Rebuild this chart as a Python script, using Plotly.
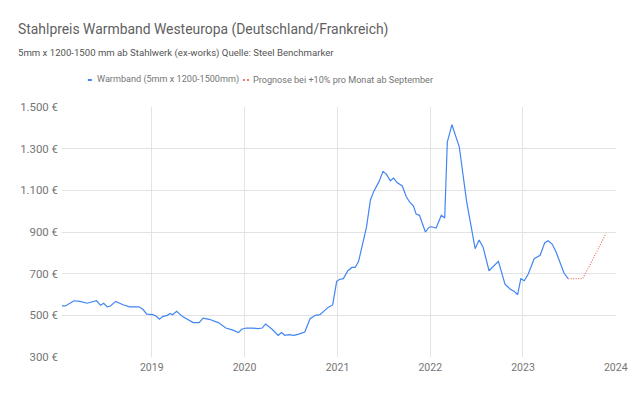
import pandas as pd
import plotly.graph_objects as go

# --- data (dates as decimal years, prices in EUR/t) ---
hist_year = [2018.032, 2018.067, 2018.118, 2018.161, 2018.225, 2018.303, 2018.404, 2018.447,
             2018.482, 2018.518, 2018.554, 2018.611, 2018.689, 2018.761, 2018.861, 2018.904,
             2018.946, 2019.011, 2019.047, 2019.083, 2019.118, 2019.168, 2019.197, 2019.225,
             2019.268, 2019.332, 2019.447, 2019.511, 2019.554, 2019.619, 2019.718, 2019.798,
             2019.868, 2019.933, 2019.969, 2020.018, 2020.083, 2020.147, 2020.190, 2020.226,
             2020.297, 2020.362, 2020.398, 2020.433, 2020.476, 2020.533, 2020.583, 2020.648,
             2020.705, 2020.762, 2020.812, 2020.898, 2020.948, 2020.991, 2021.020, 2021.063,
             2021.112, 2021.155, 2021.191, 2021.227, 2021.312, 2021.355, 2021.391, 2021.449,
             2021.491, 2021.527, 2021.570, 2021.605, 2021.642, 2021.698, 2021.741, 2021.777,
             2021.819, 2021.848, 2021.884, 2021.948, 2021.985, 2022.012, 2022.063, 2022.120,
             2022.156, 2022.184, 2022.234, 2022.313, 2022.392, 2022.484, 2022.527, 2022.570,
             2022.634, 2022.735, 2022.806, 2022.864, 2022.907, 2022.942, 2022.977, 2023.014,
             2023.057, 2023.121, 2023.185, 2023.235, 2023.271, 2023.314, 2023.357, 2023.443,
             2023.487]
hist_price = [545, 545, 558, 570, 567, 558, 570, 548,
              558, 541, 545, 567, 551, 541, 541, 529,
              506, 503, 497, 481, 494, 500, 509, 503,
              519, 494, 465, 465, 487, 481, 465, 439,
              430, 417, 433, 439, 439, 436, 439, 458,
              433, 404, 417, 404, 407, 404, 410, 420,
              484, 500, 503, 538, 550, 663, 672, 676,
              714, 730, 730, 759, 922, 1054, 1095, 1143,
              1191, 1178, 1146, 1159, 1137, 1121, 1070, 1044,
              1025, 986, 980, 900, 922, 925, 919, 980,
              967, 1332, 1415, 1309, 1047, 820, 862, 827,
              714, 759, 650, 625, 615, 599, 676, 666,
              698, 772, 788, 849, 858, 842, 804, 702,
              676]

fc_year = [2023.487, 2023.642, 2023.725, 2023.810, 2023.895]
fc_price = [676, 676, 744, 818, 893]

y_ticks = [300, 500, 700, 900, 1100, 1300, 1500]
y_labels = ["300 €", "500 €", "700 €", "900 €", "1.100 €", "1.300 €", "1.500 €"]
x_ticks = [2019, 2020, 2021, 2022, 2023, 2024]
x_labels = ["2019", "2020", "2021", "2022", "2023", "2024"]

title = "Stahlpreis Warmband Westeuropa (Deutschland/Frankreich)"
subtitle = "5mm x 1200-1500 mm ab Stahlwerk (ex-works) Quelle: Steel Benchmarker"
name_hist = "Warmband (5mm x 1200-1500mm)"
name_fc = "Prognose bei +10% pro Monat ab September"


def to_date(y):
    yr = int(y)
    start = pd.Timestamp(f"{yr}-01-01")
    end = pd.Timestamp(f"{yr + 1}-01-01")
    return start + (end - start) * (y - yr)


FONT = "Roboto"
GRID = "#e3e3e3"

fig = go.Figure()
fig.add_trace(go.Scatter(x=[to_date(v) for v in hist_year], y=hist_price, mode="lines",
                         name=name_hist, line=dict(color="#4285f4", width=1.2)))
fig.add_trace(go.Scatter(x=[to_date(v) for v in fc_year], y=fc_price, mode="lines",
                         name=name_fc, line=dict(color="#e8776f", width=1.2, dash="1px,1.5px")))

# page body has an 8px margin, so the figure is 8px smaller on each axis
fig.update_layout(
    width=632, height=388,
    margin=dict(l=54, r=21, t=99, b=39),
    paper_bgcolor="white", plot_bgcolor="white",
    showlegend=False,
    font=dict(family=FONT, color="#757575"),
    xaxis=dict(type="date", range=[to_date(2018.032), to_date(2024.003)],
               tickvals=[to_date(v) for v in x_ticks], ticktext=x_labels,
               showgrid=True, gridcolor=GRID, gridwidth=1, zeroline=False,
               showline=False, ticks="", ticklabelstandoff=2,
               tickfont=dict(size=10.5, color="#757575")),
    yaxis=dict(range=[300, 1500], tickvals=y_ticks, ticktext=y_labels,
               showgrid=True, gridcolor=GRID, gridwidth=1, zeroline=False,
               showline=False, ticks="", ticklabelstandoff=3,
               tickfont=dict(size=11.4, color="#757575")),
)

# screen-pixel helpers relative to the plot area (62..619 x, 107..357 y)
PW, PH, L, T = 557, 250, 62, 107


def px(x):
    return (x - L) / PW


def py(y):
    return (T + PH - y) / PH


fig.add_annotation(text=title, xref="paper", yref="paper", x=px(16), y=py(30),
                   xanchor="left", yanchor="middle", showarrow=False,
                   font=dict(family=FONT, size=13.9, color="#5f5f5f"))
fig.add_annotation(text=subtitle, xref="paper", yref="paper", x=px(16), y=py(53),
                   xanchor="left", yanchor="middle", showarrow=False,
                   font=dict(family=FONT, size=9.6, color="#555555"))
# legend
fig.add_shape(type="line", xref="paper", yref="paper", x0=px(88), x1=px(92), y0=py(80), y1=py(80),
              line=dict(color="#4285f4", width=2))
fig.add_annotation(text=name_hist, xref="paper", yref="paper", x=px(95), y=py(80),
                   xanchor="left", yanchor="middle", showarrow=False,
                   font=dict(family=FONT, size=9.1, color="#757575"))
fig.add_shape(type="line", xref="paper", yref="paper", x0=px(244), x1=px(250), y0=py(80), y1=py(80),
              line=dict(color="#e8776f", width=2, dash="2px,2px"))
fig.add_annotation(text=name_fc, xref="paper", yref="paper", x=px(252), y=py(80),
                   xanchor="left", yanchor="middle", showarrow=False,
                   font=dict(family=FONT, size=9.1, color="#757575"))

fig.write_html("out.html")
